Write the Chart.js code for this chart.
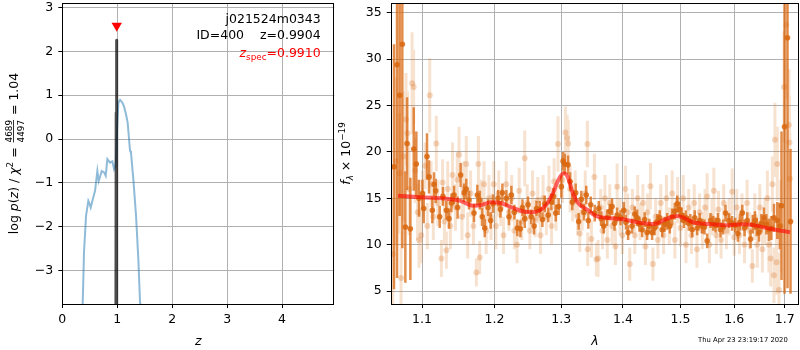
<!DOCTYPE html>
<html>
<head>
<meta charset="utf-8">
<script src="https://cdn.jsdelivr.net/npm/chart.js@4.4.0/dist/chart.umd.min.js"></script>
<style>
  body { margin: 0; background: #fff; }
  #wrap { position: relative; width: 800px; height: 350px; }
  canvas { position: absolute; top: 0; }
  #pz { left: 0; }
  #spec { left: 336px; }
</style>
</head>
<body>
<div id="wrap">
  <canvas id="pz" width="336" height="350"></canvas>
  <canvas id="spec" width="464" height="350"></canvas>
</div>
<script>
// ---- p(z) panel ----
const zGrid = [0.366, 0.371, 0.395, 0.432, 0.474, 0.495, 0.517, 0.547, 0.596, 0.638, 0.663, 0.69, 0.717, 0.76, 0.79, 0.82, 0.869, 0.911, 0.942, 0.966, 0.98, 1.0, 1.02, 1.051, 1.093, 1.124, 1.16, 1.19, 1.215, 1.233, 1.25, 1.293, 1.342, 1.384, 1.415, 1.42];
const logPz = [-4.0, -3.76, -2.58, -1.75, -1.41, -1.47, -1.56, -1.41, -1.18, -0.73, -0.96, -0.85, -0.73, -0.76, -0.84, -0.46, -0.54, -0.51, -0.69, -0.62, -0.4, 0.3, 0.83, 0.89, 0.83, 0.74, 0.56, 0.37, -0.01, -0.27, -0.31, -0.92, -1.75, -2.74, -3.73, -4.0];
const zPeak = [0.976, 0.981, 0.985, 0.989, 0.994];
const logPzPeak = [-4.0, 0.6, 2.25, 0.6, -4.0];
const zBest = [0.991];
const zBestMark = [2.58];
const zTicks = [0, 1, 2, 3, 4];
const logPTicks = [-3, -2, -1, 0, 1, 2, 3];

// ---- spectrum panel ----
const darkWave = [1.0636, 1.0675, 1.0709, 1.0743, 1.0782, 1.0804, 1.0847, 1.0891, 1.0925, 1.0960, 1.1005, 1.1022, 1.1066, 1.1093, 1.1137, 1.1160, 1.1182, 1.1236, 1.1280, 1.1326, 1.1362, 1.1395, 1.1431, 1.1480, 1.1522, 1.1569, 1.1600, 1.1638, 1.1708, 1.1755, 1.1790, 1.1826, 1.1860, 1.1907, 1.1945, 1.1979, 1.2051, 1.2085, 1.2114, 1.2172, 1.2210, 1.2245, 1.2290, 1.2333, 1.2378, 1.2410, 1.2443, 1.2493, 1.2540, 1.2583, 1.2620, 1.2669, 1.2710, 1.2745, 1.2800, 1.2847, 1.2880, 1.2915, 1.2960, 1.3002, 1.3030, 1.3055, 1.3107, 1.3140, 1.3174, 1.3228, 1.3275, 1.3317, 1.3360, 1.3397, 1.3430, 1.3469, 1.3534, 1.3599, 1.3640, 1.3681, 1.3736, 1.3780, 1.3819, 1.3860, 1.3902, 1.3960, 1.4014, 1.4050, 1.4087, 1.4155, 1.4200, 1.4240, 1.4280, 1.4326, 1.4370, 1.4412, 1.4450, 1.4499, 1.4540, 1.4587, 1.4630, 1.4675, 1.4720, 1.4763, 1.4810, 1.4852, 1.4900, 1.4942, 1.4983, 1.5020, 1.5061, 1.5100, 1.5152, 1.5180, 1.5213, 1.5260, 1.5304, 1.5350, 1.5396, 1.5440, 1.5489, 1.5551, 1.5600, 1.5645, 1.5690, 1.5739, 1.5790, 1.5834, 1.5900, 1.5961, 1.6020, 1.6072, 1.6110, 1.6155, 1.6200, 1.6253, 1.6317, 1.6360, 1.6403, 1.6440, 1.6482, 1.6530, 1.6581, 1.6630, 1.6681, 1.6730, 1.6782, 1.6849, 1.6900, 1.6935, 1.6996, 1.7057, 1.7119, 1.7150];
const darkFlux = [18.4, 29.4, 26.1, 31.6, 11.9, 20.9, 11.7, 20.3, 18.7, 15.0, 15.5, 13.9, 19.5, 17.3, 13.7, 16.5, 15.8, 13.0, 15.2, 13.7, 12.8, 14.5, 15.35, 14.0, 17.5, 15.6, 16.0, 14.8, 13.4, 15.35, 14.8, 13.0, 11.8, 14.0, 12.6, 14.4, 15.0, 13.8, 15.6, 15.0, 13.0, 15.35, 13.5, 11.8, 11.7, 14.0, 12.8, 14.3, 13.0, 12.0, 13.9, 13.8, 12.7, 14.4, 13.2, 14.6, 15.2, 13.4, 14.1, 16.25, 19.0, 18.7, 18.6, 16.8, 14.6, 15.6, 12.5, 14.9, 13.5, 15.35, 12.6, 14.3, 13.4, 13.9, 12.8, 12.0, 12.9, 13.6, 14.1, 12.3, 13.2, 12.9, 13.7, 12.4, 11.3, 12.0, 13.3, 12.9, 12.2, 11.6, 12.7, 11.3, 12.0, 11.3, 11.8, 12.5, 12.9, 11.6, 12.2, 12.5, 12.0, 13.0, 13.6, 14.4, 13.8, 13.2, 12.6, 12.9, 12.3, 12.5, 11.6, 12.9, 11.8, 12.6, 12.0, 11.9, 10.4, 12.6, 12.3, 12.1, 12.6, 11.6, 11.9, 13.4, 12.6, 12.3, 12.1, 11.2, 12.4, 13.4, 11.8, 12.6, 10.6, 12.2, 12.6, 11.9, 11.3, 12.3, 12.9, 12.2, 11.6, 11.8, 12.9, 12.6, 12.0, 14.2, 22.7, 32.3, 12.5, 40.0];
const darkErr = [13.2, 23.0, 13.0, 22.0, 6.0, 5.0, 5.5, 4.5, 3.5, 2.0, 1.5, 1.6, 2.5, 1.8, 1.4, 1.3, 1.3, 1.2, 1.0, 1.0, 1.1, 1.0, 1.0, 1.2, 1.3, 1.0, 1.1, 1.0, 1.0, 1.1, 1.0, 1.0, 1.0, 0.9, 0.9, 1.0, 0.9, 0.9, 1.0, 0.9, 0.9, 1.0, 0.8, 0.9, 0.9, 0.9, 1.0, 0.9, 0.8, 0.9, 0.8, 0.9, 0.8, 0.9, 0.8, 0.9, 0.9, 0.9, 0.9, 1.2, 1.0, 1.1, 1.0, 1.0, 0.9, 1.0, 0.9, 0.9, 0.9, 1.0, 0.9, 0.9, 0.9, 0.8, 0.8, 0.8, 0.9, 0.8, 0.9, 0.8, 0.8, 0.8, 0.9, 0.8, 0.8, 0.8, 0.8, 0.9, 0.8, 0.8, 0.8, 0.8, 0.8, 0.8, 0.8, 0.8, 0.8, 0.8, 0.8, 0.9, 0.8, 0.9, 0.9, 0.9, 0.8, 0.8, 0.8, 0.8, 0.8, 0.8, 0.8, 0.8, 0.8, 0.8, 0.8, 0.8, 0.8, 0.8, 0.8, 0.8, 0.8, 0.8, 0.8, 0.9, 0.8, 0.8, 0.8, 0.9, 0.9, 0.9, 0.9, 0.9, 1.0, 1.0, 1.0, 1.0, 1.0, 1.0, 1.1, 1.1, 1.2, 1.3, 1.5, 2.0, 2.5, 8.0, 18.0, 27.0, 7.8, 4.0];

const lightWave = [1.0620, 1.0660, 1.0709, 1.0726, 1.0760, 1.0790, 1.0810, 1.0830, 1.0870, 1.0890, 1.0910, 1.0940, 1.0960, 1.0990, 1.1010, 1.1040, 1.1070, 1.1102, 1.1120, 1.1150, 1.1190, 1.1210, 1.1258, 1.1275, 1.1300, 1.1326, 1.1345, 1.1380, 1.1410, 1.1450, 1.1475, 1.1500, 1.1540, 1.1560, 1.1600, 1.1620, 1.1660, 1.1700, 1.1741, 1.1770, 1.1788, 1.1810, 1.1850, 1.1880, 1.1920, 1.1950, 1.1990, 1.2020, 1.2060, 1.2090, 1.2130, 1.2170, 1.2210, 1.2250, 1.2290, 1.2328, 1.2360, 1.2400, 1.2443, 1.2480, 1.2520, 1.2560, 1.2600, 1.2640, 1.2680, 1.2720, 1.2770, 1.2810, 1.2850, 1.2890, 1.2920, 1.2950, 1.3020, 1.3066, 1.3093, 1.3110, 1.3140, 1.3180, 1.3220, 1.3260, 1.3293, 1.3330, 1.3380, 1.3415, 1.3420, 1.3480, 1.3528, 1.3561, 1.3588, 1.3630, 1.3660, 1.3700, 1.3740, 1.3780, 1.3820, 1.3874, 1.3902, 1.3950, 1.3990, 1.4041, 1.4080, 1.4115, 1.4160, 1.4200, 1.4250, 1.4290, 1.4340, 1.4383, 1.4420, 1.4470, 1.4512, 1.4560, 1.4600, 1.4650, 1.4700, 1.4750, 1.4800, 1.4852, 1.4900, 1.4950, 1.5000, 1.5050, 1.5100, 1.5150, 1.5200, 1.5250, 1.5300, 1.5350, 1.5400, 1.5450, 1.5489, 1.5530, 1.5580, 1.5614, 1.5660, 1.5700, 1.5750, 1.5800, 1.5850, 1.5900, 1.5961, 1.6000, 1.6050, 1.6100, 1.6150, 1.6200, 1.6250, 1.6300, 1.6352, 1.6400, 1.6450, 1.6500, 1.6550, 1.6600, 1.6650, 1.6680, 1.6715, 1.6750, 1.6782, 1.6802, 1.6834, 1.6849, 1.6883, 1.6920, 1.6985, 1.7032, 1.7087, 1.7097, 1.7105];
const lightFlux = [9.0, 19.0, 17.7, 6.4, 19.5, 23.5, 22.0, 16.0, 27.4, 27.0, 18.0, 13.5, 10.5, 11.0, 15.5, 18.5, 12.0, 26.1, 16.5, 13.0, 20.9, 14.5, 8.5, 16.7, 12.5, 9.4, 16.0, 12.0, 17.5, 14.0, 17.0, 19.7, 13.0, 16.0, 18.7, 11.0, 15.5, 12.0, 7.0, 18.7, 8.6, 14.5, 16.5, 11.5, 15.0, 13.0, 16.5, 12.0, 15.5, 14.0, 11.0, 16.5, 13.5, 15.0, 11.5, 10.0, 15.8, 12.5, 19.3, 14.5, 11.5, 15.5, 12.8, 14.8, 11.0, 15.0, 13.0, 16.0, 12.0, 16.8, 14.0, 20.85, 17.0, 22.1, 21.5, 20.9, 16.0, 14.5, 15.5, 13.0, 11.2, 13.5, 15.5, 20.85, 9.5, 10.6, 17.3, 8.4, 8.5, 14.0, 11.5, 15.0, 10.5, 14.5, 12.0, 9.8, 16.25, 13.0, 11.0, 16.0, 13.5, 7.9, 14.0, 11.0, 15.0, 12.5, 14.5, 9.8, 13.5, 16.3, 7.9, 13.0, 10.5, 14.5, 11.0, 15.0, 12.0, 15.5, 10.5, 14.8, 11.8, 15.0, 10.0, 14.0, 11.0, 14.5, 9.5, 13.5, 11.5, 14.0, 15.2, 10.0, 13.0, 15.8, 11.0, 13.8, 10.5, 14.5, 11.5, 13.0, 15.7, 10.8, 14.0, 11.0, 13.5, 10.0, 14.5, 11.5, 7.7, 13.0, 10.0, 14.0, 9.5, 12.5, 15.0, 10.0, 8.5, 16.5, 6.7, 21.3, 8.1, 18.7, 5.1, 12.0, 27.0, 33.7, 22.9, 21.0, 17.1];
const lightErr = [6.0, 9.0, 6.5, 5.0, 7.0, 5.0, 4.5, 5.0, 5.5, 4.0, 3.5, 3.0, 3.0, 3.0, 2.5, 2.5, 2.5, 4.0, 2.5, 2.5, 3.0, 2.5, 2.0, 2.5, 2.5, 2.0, 3.0, 2.5, 3.5, 2.5, 3.0, 3.0, 2.5, 3.0, 3.0, 2.5, 2.5, 2.0, 1.5, 3.0, 1.8, 2.5, 2.5, 2.5, 2.5, 2.5, 2.5, 2.5, 2.5, 2.0, 2.0, 2.5, 2.0, 2.5, 2.0, 2.0, 2.5, 2.0, 3.0, 2.0, 2.0, 2.5, 2.0, 2.5, 2.0, 2.5, 2.0, 2.5, 2.0, 2.5, 2.5, 3.0, 2.5, 2.8, 2.5, 2.5, 2.5, 2.0, 2.5, 2.0, 2.0, 2.0, 2.5, 2.5, 1.8, 2.0, 2.5, 1.8, 2.0, 2.0, 2.0, 2.5, 2.0, 2.0, 2.0, 2.0, 2.5, 2.0, 2.0, 2.5, 2.0, 1.8, 2.0, 2.0, 2.5, 2.0, 2.0, 2.0, 2.0, 2.5, 1.8, 2.0, 2.0, 2.0, 2.0, 2.5, 2.0, 2.5, 2.0, 2.5, 2.0, 2.5, 2.0, 2.0, 2.0, 2.0, 2.0, 2.0, 2.0, 2.0, 2.5, 2.0, 2.0, 2.5, 2.0, 2.0, 2.0, 2.0, 2.0, 2.0, 2.5, 2.0, 2.0, 2.0, 2.0, 2.0, 2.5, 2.0, 1.8, 2.5, 2.5, 2.5, 2.5, 2.5, 3.0, 3.0, 3.0, 3.0, 3.0, 4.0, 3.5, 4.0, 4.0, 5.0, 6.0, 8.0, 6.0, 5.0, 5.0];

const modelWave = [1.0688, 1.099, 1.135, 1.151, 1.1695, 1.1813, 1.1955, 1.21, 1.2245, 1.239, 1.254, 1.266, 1.2766, 1.287, 1.2945, 1.3035, 1.310, 1.318, 1.326, 1.342, 1.355, 1.370, 1.40, 1.428, 1.4535, 1.471, 1.4925, 1.5045, 1.5225, 1.553, 1.584, 1.616, 1.643, 1.670, 1.711];
const modelFlux = [15.28, 15.1, 14.93, 14.74, 14.2, 14.28, 14.57, 14.46, 14.03, 13.63, 13.49, 13.66, 14.28, 15.54, 16.8, 17.7, 17.33, 15.6, 14.53, 13.74, 13.1, 12.91, 12.74, 12.37, 12.23, 12.66, 13.1, 12.95, 12.41, 12.23, 12.09, 12.2, 12.05, 11.72, 11.34];
const waveTicks = [1.1, 1.2, 1.3, 1.4, 1.5, 1.6, 1.7];
const fluxTicks = [5, 10, 15, 20, 25, 30, 35];

const FAMILY = "'DejaVu Sans'";
const FS = 12.5;
const SMALL = 8.8;
Chart.defaults.font.family = FAMILY;
Chart.defaults.font.size = FS;
Chart.defaults.color = '#000';

const ORANGE = '217,103,15';

function pairs(xs, ys) {
  return xs.map((x, i) => ({ x: x, y: ys[i] }));
}

// vertical error bars as line segments split by gaps
function errorSegments(xs, ys, es) {
  const pts = [];
  xs.forEach((x, i) => {
    pts.push({ x: x, y: ys[i] - es[i] }, { x: x, y: ys[i] + es[i] }, { x: x, y: null });
  });
  return pts;
}

function fontStr(size, italic) {
  return (italic ? 'italic ' : '') + size + 'px ' + FAMILY;
}

// runs: [text, size, italic, dy] or a stacked fraction
function runsWidth(ctx, runs) {
  let w = 0;
  runs.forEach(r => {
    if (r.frac) { ctx.font = fontStr(SMALL); w += Math.max(ctx.measureText(r.num).width, ctx.measureText(r.den).width) + 2; return; }
    ctx.font = fontStr(r[1], r[2]);
    w += ctx.measureText(r[0]).width;
  });
  return w;
}

function drawRuns(ctx, runs, x, y) {
  ctx.textBaseline = 'alphabetic';
  ctx.textAlign = 'left';
  runs.forEach(r => {
    if (r.frac) {
      ctx.font = fontStr(SMALL);
      const w = Math.max(ctx.measureText(r.num).width, ctx.measureText(r.den).width);
      ctx.textAlign = 'center';
      ctx.fillText(r.num, x + 1 + w / 2, y - 5.5);
      ctx.fillText(r.den, x + 1 + w / 2, y + 6);
      ctx.textAlign = 'left';
      ctx.fillRect(x + 1, y - 4.3, w, 0.8);
      x += w + 2;
      return;
    }
    ctx.font = fontStr(r[1], r[2]);
    ctx.fillText(r[0], x, y + (r[3] || 0));
    x += ctx.measureText(r[0]).width;
  });
}

function axisFrame(chart) {
  const a = chart.chartArea;
  const ctx = chart.ctx;
  ctx.save();
  ctx.strokeStyle = '#000';
  ctx.lineWidth = 1;
  ctx.strokeRect(Math.round(a.left) + 0.5, Math.round(a.top) + 0.5, Math.round(a.right - a.left) - 1, Math.round(a.bottom - a.top));
  ctx.restore();
}

function fixedTicks(values) {
  return function (scale) { scale.ticks = values.map(v => ({ value: v })); };
}

// pin an axis to a set thickness and drop the label overflow padding
function fitAxis(size) {
  return function (s) {
    if (s.isHorizontal()) s.height = size; else s.width = size;
    s.paddingTop = 0; s.paddingBottom = 0; s.paddingLeft = 0; s.paddingRight = 0;
  };
}

const gridStyle = { color: '#b0b0b0', lineWidth: 1, tickColor: '#000', tickLength: 4 };

const pzDecor = {
  id: 'pzDecor',
  afterDraw(chart) {
    const ctx = chart.ctx;
    const a = chart.chartArea;
    axisFrame(chart);
    ctx.save();
    ctx.fillStyle = '#000';
    const xr = a.left + 0.95 * (a.right - a.left);
    ctx.font = fontStr(FS);
    ctx.textAlign = 'right';
    ctx.fillText('j021524m0343', xr, 23.3);
    ctx.fillText('ID=400    z=0.9904', xr, 39.3);
    const spec = [['z', FS, true], ['spec', SMALL, false, 2.6], ['=0.9910', FS]];
    ctx.fillStyle = '#ff0000';
    drawRuns(ctx, spec, xr - runsWidth(ctx, spec), 57);

    // axis titles
    ctx.fillStyle = '#000';
    ctx.font = fontStr(FS, true);
    ctx.textAlign = 'center';
    ctx.fillText('z', (a.left + a.right) / 2, 345);

    const ylab = [['log ', FS], ['p', FS, true], ['(', FS], ['z', FS, true], [') / ', FS], ['\u03c7', FS, true], ['2', SMALL, false, -5], [' = ', FS], { frac: true, num: '4689', den: '4497' }, [' = 1.04', FS]];
    ctx.translate(17.5, (a.top + a.bottom) / 2);
    ctx.rotate(-Math.PI / 2);
    drawRuns(ctx, ylab, -runsWidth(ctx, ylab) / 2, 0);
    ctx.restore();
  }
};

new Chart(document.getElementById('pz'), {
  type: 'line',
  data: {
    datasets: [
      {
        data: pairs(zBest, zBestMark), showLine: false, order: 0, clip: false,
        pointStyle: 'triangle', rotation: 180, pointRadius: 6, pointBackgroundColor: '#ff0000', pointBorderWidth: 0
      },
      {
        data: pairs(zPeak, logPzPeak), order: 1, clip: 0,
        borderColor: 'rgba(0,0,0,0.7)', borderWidth: 3, borderJoinStyle: 'round', pointRadius: 0
      },
      {
        data: pairs(zGrid, logPz), order: 2, clip: 0,
        borderColor: 'rgba(31,119,180,0.5)', borderWidth: 2, pointRadius: 0
      }
    ]
  },
  options: {
    responsive: false,
    animation: false,
    layout: { autoPadding: false, padding: { top: 3, right: 1.7, left: 0, bottom: 0 } },
    plugins: { legend: { display: false }, tooltip: { enabled: false } },
    scales: {
      x: {
        type: 'linear', min: 0, max: 4.95,
        afterBuildTicks: fixedTicks(zTicks),
        afterFit: fitAxis(46),
        grid: gridStyle, border: { display: false },
        ticks: { padding: 4, maxRotation: 0, callback: v => String(v) }
      },
      y: {
        type: 'linear', min: -3.76, max: 3.1,
        afterBuildTicks: fixedTicks(logPTicks),
        afterFit: fitAxis(62.3),
        grid: gridStyle, border: { display: false },
        ticks: { padding: 5, callback: v => (v < 0 ? '\u2212' + Math.abs(v) : String(v)) }
      }
    }
  },
  plugins: [pzDecor]
});

const specDecor = {
  id: 'specDecor',
  afterDraw(chart) {
    const ctx = chart.ctx;
    const a = chart.chartArea;
    axisFrame(chart);
    ctx.save();
    ctx.fillStyle = '#000';
    ctx.font = fontStr(FS, true);
    ctx.textAlign = 'center';
    ctx.fillText('\u03bb', (a.left + a.right) / 2, 345);

    ctx.font = fontStr(6.8);
    ctx.textAlign = 'right';
    ctx.fillText('Thu Apr 23 23:19:17 2020', 451.7, 342);

    const ylab = [['f', FS, true], ['\u03bb', SMALL, true, 2.6], [' \u00d7 10', FS], ['\u221219', SMALL, false, -5]];
    ctx.translate(14, (a.top + a.bottom) / 2);
    ctx.rotate(-Math.PI / 2);
    drawRuns(ctx, ylab, -runsWidth(ctx, ylab) / 2, 0);
    ctx.restore();
  }
};

new Chart(document.getElementById('spec'), {
  type: 'line',
  data: {
    datasets: [
      {
        data: pairs(modelWave, modelFlux), order: 0, clip: 0,
        borderColor: 'rgba(255,0,0,0.6)', borderWidth: 4, pointRadius: 0,
        cubicInterpolationMode: 'monotone'
      },
      {
        data: pairs(darkWave, darkFlux), showLine: false, order: 1, clip: 0,
        pointRadius: 2.8, pointBackgroundColor: 'rgba(' + ORANGE + ',0.85)', pointBorderWidth: 0
      },
      {
        data: errorSegments(darkWave, darkFlux, darkErr), order: 2, clip: 0, spanGaps: false,
        borderColor: 'rgba(' + ORANGE + ',0.75)', borderWidth: 2.5, borderCapStyle: 'butt', pointRadius: 0
      },
      {
        data: pairs(lightWave, lightFlux), showLine: false, order: 3, clip: 0,
        pointRadius: 3, pointBackgroundColor: 'rgba(' + ORANGE + ',0.25)', pointBorderWidth: 0
      },
      {
        data: errorSegments(lightWave, lightFlux, lightErr), order: 4, clip: 0, spanGaps: false,
        borderColor: 'rgba(' + ORANGE + ',0.2)', borderWidth: 3, borderCapStyle: 'butt', pointRadius: 0
      }
    ]
  },
  options: {
    responsive: false,
    animation: false,
    layout: { autoPadding: false, padding: { top: 3, right: 1, left: 0, bottom: 0 } },
    plugins: { legend: { display: false }, tooltip: { enabled: false } },
    scales: {
      x: {
        type: 'logarithmic', min: 1.0594, max: 1.7294,
        afterBuildTicks: fixedTicks(waveTicks),
        afterFit: fitAxis(46),
        grid: gridStyle, border: { display: false },
        ticks: { padding: 4, maxRotation: 0, autoSkip: false, callback: v => Number(v).toFixed(1) }
      },
      y: {
        type: 'linear', min: 3.6, max: 36.05,
        afterBuildTicks: fixedTicks(fluxTicks),
        afterFit: fitAxis(54.7),
        grid: gridStyle, border: { display: false },
        ticks: { padding: 5, callback: v => String(v) }
      }
    }
  },
  plugins: [specDecor]
});
</script>
</body>
</html>
